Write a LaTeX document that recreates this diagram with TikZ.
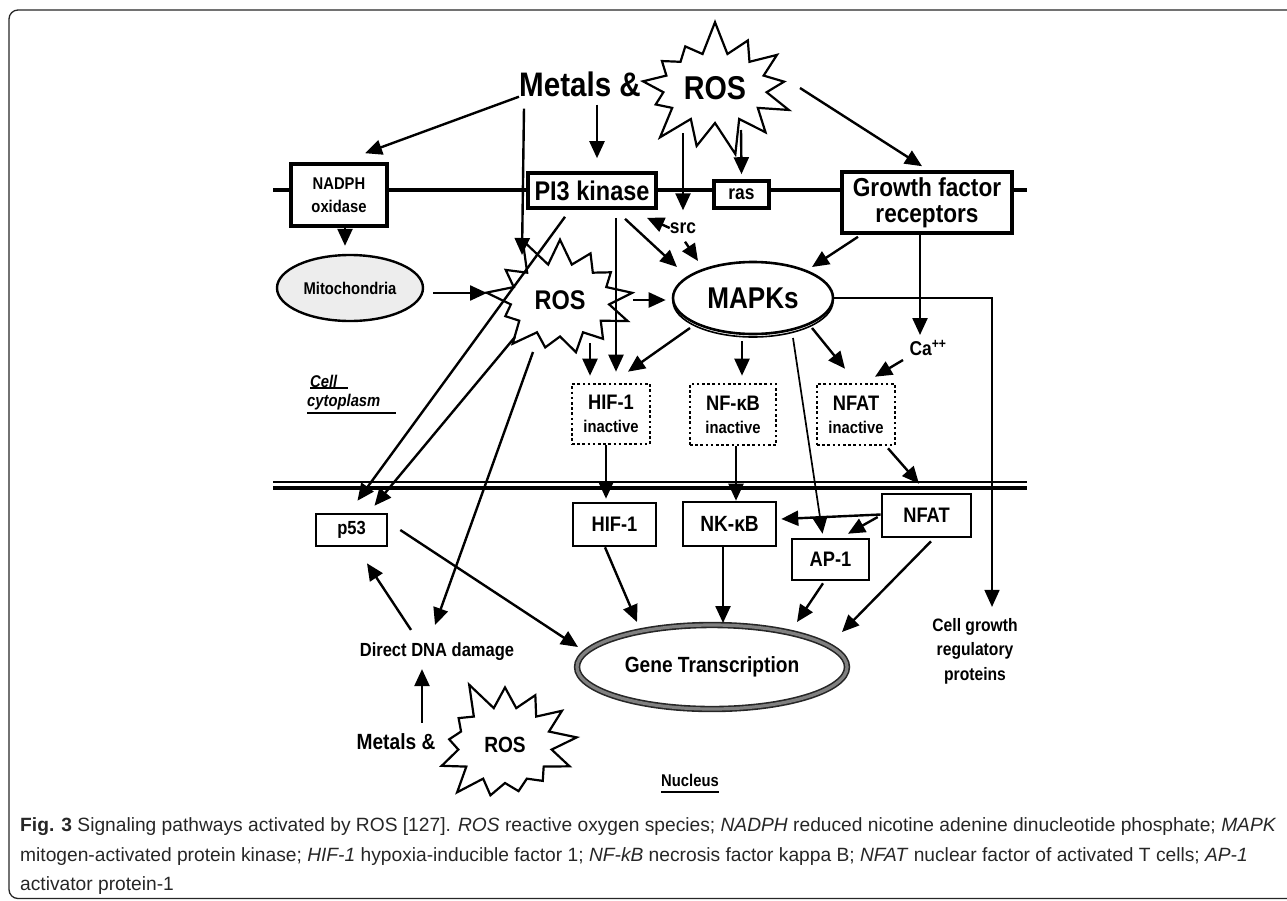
\documentclass[tikz,border=0pt]{standalone}
\usepackage{fontspec}
\setmainfont{Liberation Sans}
\newfontfamily\narrowfont[FakeStretch=0.87]{Liberation Sans}
\usetikzlibrary{arrows.meta,positioning,shapes.geometric,shapes.symbols}

\newcommand{\fsz}[2]{\fontsize{#1}{#2}\selectfont}

\tikzset{
  lbl/.style={inner sep=0pt, align=center, font=\narrowfont\bfseries\fsz{20}{24}},
  membox/.style={draw, line width=3.6pt, fill=white, inner sep=0pt, align=center,
    font=\narrowfont\bfseries\fsz{20}{24}},
  nucbox/.style={draw, line width=2.6pt, fill=white, inner sep=0pt, align=center,
    font=\narrowfont\bfseries\fsz{21}{24}},
  inactbox/.style={draw, line width=2.6pt, dash pattern=on 2.6pt off 2.6pt,
    inner sep=0pt, align=center, font=\narrowfont\bfseries\fsz{21}{23}},
  burst/.style={starburst, draw, line width=2.2pt, fill=white, inner sep=0pt,
    starburst points=13, font=\narrowfont\bfseries},
  sig/.style={-{Triangle[length=17pt,width=15pt]}, line width=2.4pt},
  thinsig/.style={-{Triangle[length=17pt,width=15pt]}, line width=1.7pt},
}

\begin{document}
\begin{tikzpicture}[x=1pt,y=-1pt]
\useasboundingbox (0,0) rectangle (1287,900);
  % frame
  \draw[line width=1.3pt, black!85, rounded corners=9pt] (1287,10) -- (9,10) -- (9,898.5) -- (1287,898.5);
  % membranes
  \draw[line width=4pt] (273,190) -- (1027,190);
  \draw[line width=1.2pt] (273,482) -- (1027,482);
  \draw[line width=4pt] (273,488) -- (1027,488);
%%
  % Node: rosTop
  \node[burst, minimum width=172pt, minimum height=138pt, starburst point height=34pt,
    random starburst=7, font=\narrowfont\bfseries\fsz{33}{33}] (rosTop) at (715,88) {ROS};
  % Node: metTop
  \node[lbl, font=\narrowfont\bfseries\fsz{34}{36}] (metTop) at (580,84) {Metals \&};
  % Node: nadph
  \node[membox, minimum width=96pt, minimum height=62pt, font=\narrowfont\bfseries\fsz{17}{23}] (nadph) at (339,195) {NADPH\\oxidase};
  % Node: pi3
  \node[membox, minimum width=128pt, minimum height=35pt, font=\narrowfont\bfseries\fsz{27}{27}] (pi3) at (592,190.5) {PI3 kinase};
  % Node: ras
  \node[membox, minimum width=55pt, minimum height=27pt] (ras) at (741.5,194.5) {ras};
  % Node: gfr
  \node[membox, minimum width=170pt, minimum height=61pt, font=\narrowfont\bfseries\fsz{26}{26}] (gfr) at (927,202.5) {Growth factor\\receptors};
  % Node: src
  \node[lbl] (src) at (683,228) {src};
  % Node: mito
  \node[ellipse, draw, line width=2.4pt, fill=black!7, minimum width=146pt, minimum height=66pt,
    inner sep=0pt, font=\narrowfont\bfseries\fsz{17}{17}] (mito) at (350,288) {Mitochondria};
  % Node: rosMid
  \node[burst, minimum width=163pt, minimum height=137pt, starburst point height=32pt,
    random starburst=11, font=\narrowfont\bfseries\fsz{27}{27}] (rosMid) at (560,300) {ROS};
  % Node: mapk
  \draw[line width=1.6pt] (753,301) ellipse (80pt and 36pt);
  \node[ellipse, draw, line width=2.6pt, fill=white, minimum width=160pt, minimum height=72pt,
    inner sep=0pt, font=\narrowfont\bfseries\fsz{30}{30}] (mapk) at (753,298) {MAPKs};
  % Node: ca
  \node[lbl] (ca) at (928,348) {Ca\textsuperscript{++}};
  % Node: hifI
  \node[inactbox, minimum width=78pt, minimum height=60pt] (hifI) at (611,414) {HIF-1\\{\fsz{17}{23}inactive}};
  % Node: nfkbI
  \node[inactbox, minimum width=86pt, minimum height=61pt] (nfkbI) at (733,414.5) {NF-κB\\{\fsz{17}{23}inactive}};
  % Node: nfatI
  \node[inactbox, minimum width=78pt, minimum height=61pt] (nfatI) at (856,414.5) {NFAT\\{\fsz{17}{23}inactive}};
  % Node: hif
  \node[nucbox, minimum width=83pt, minimum height=43pt] (hif) at (614.5,524.5) {HIF-1};
  % Node: nkkb
  \node[nucbox, minimum width=93pt, minimum height=44pt, font=\narrowfont\bfseries\fsz{22}{24}] (nkkb) at (729.5,524) {NK-κB};
  % Node: nfat
  \node[nucbox, minimum width=89pt, minimum height=43pt] (nfat) at (926.5,515.5) {NFAT};
  % Node: ap1
  \node[nucbox, minimum width=77pt, minimum height=41pt] (ap1) at (830.5,559.5) {AP-1};
  % Node: p53
  \node[nucbox, minimum width=71pt, minimum height=32pt, font=\narrowfont\bfseries\fsz{19}{19}] (p53) at (351.5,530) {p53};
  % Node: gt
  \node[ellipse, draw=black!85, double=black!50, double distance=3.2pt, line width=1.6pt,
    minimum width=270pt, minimum height=84pt, inner sep=0pt,
    font=\narrowfont\bfseries\fsz{22}{22}] (gt) at (712,667) {Gene Transcription};
  % Node: dna
  \node[lbl, font=\narrowfont\bfseries\fsz{19}{19}] (dna) at (437,652) {Direct DNA damage};
  % Node: cgrow
  \node[lbl, font=\narrowfont\bfseries\fsz{18}{24.5}] (cgrow) at (975,651) {Cell growth\\regulatory\\proteins};
  % Node: rosBot
  \node[burst, minimum width=158pt, minimum height=140pt, starburst point height=32pt,
    random starburst=5, font=\narrowfont\bfseries\fsz{22}{22}] (rosBot) at (505,745) {ROS};
  % Node: metBot
  \node[lbl, font=\narrowfont\bfseries\fsz{22}{22}] (metBot) at (396,742) {Metals \&};
  % Node: cellLbl, cytoLbl, nucLbl
  \node[lbl, anchor=base west, font=\narrowfont\bfseries\itshape\fsz{17}{17}] (cellLbl) at (310,387) {Cell};
  \node[lbl, anchor=base west, font=\narrowfont\bfseries\itshape\fsz{17}{17}] (cytoLbl) at (307,406) {cytoplasm};
  \node[lbl, anchor=base, font=\narrowfont\bfseries\fsz{17}{17}] (nucLbl) at (690,786) {Nucleus};
  \draw[line width=2pt] ([yshift=-1pt]cellLbl.base west) -- ++(38,0);
  \draw[line width=2pt] ([yshift=-7pt]cytoLbl.base west) -- ++(89,0);
  \draw[line width=2pt] ([yshift=-6pt]nucLbl.base west) -- ([yshift=-6pt]nucLbl.base east);
%%
  % Edge: metTop -> nadph
  \draw[sig] (metTop.south west) -- ([xshift=26pt,yshift=9pt]nadph.north);
  % Edge: metTop -> rosMid
  \draw[sig] ([xshift=5pt,yshift=-12pt]metTop.south west) -- ([xshift=-38pt,yshift=45pt]rosMid.center);
  % Edge: metTop -> pi3
  \draw[sig] ([xshift=17pt,yshift=-8pt]metTop.south) -- ([xshift=5pt,yshift=13pt]pi3.north);
  % Edge: rosTop -> src
  \draw[sig] ([xshift=-32pt,yshift=-45pt]rosTop.center) -- ([yshift=12pt]src.north);
  % Edge: rosTop -> ras
  \draw[sig] ([xshift=26pt,yshift=-42pt]rosTop.center) -- ([yshift=5pt]ras.north);
  % Edge: rosTop -> gfr
  \draw[sig] ([xshift=85pt]rosTop.center) -- ([xshift=-5pt,yshift=4pt]gfr.north);
  % Edge: nadph -> mito
  \draw[sig] ([xshift=6pt]nadph.south) -- ([xshift=-5pt,yshift=8pt]mito.north);
  % Edge: mito -> rosMid
  \draw[sig] ([xshift=9pt,yshift=-5pt]mito.east) -- ([xshift=-73pt,yshift=7pt]rosMid.center);
  % Edge: rosMid -> mapk
  \draw[sig] ([xshift=73pt]rosMid.center) -- ([xshift=-6pt,yshift=-2pt]mapk.west);
  % Edge: mapk -> cgrow
  \draw[thinsig] (mapk.east) -| ([xshift=17pt,yshift=11pt]cgrow.north);
  % Edge: pi3 -> mapk
  \draw[sig] ([xshift=33pt,yshift=-9pt]pi3.south) -- ([xshift=-76pt,yshift=31pt]mapk.center);
  % Edge: src -> pi3
  \draw[sig] (src.west) -- ([xshift=55pt,yshift=-8pt]pi3.south);
  % Edge: src -> mapk
  \draw[sig] ([xshift=2pt,yshift=-8pt]src.south) -- ([xshift=-55pt,yshift=37pt]mapk.center);
  % Edge: pi3 -> hifI
  \draw[sig] ([xshift=24pt,yshift=-8pt]pi3.south) -- ([xshift=5pt,yshift=11pt]hifI.north);
  % Edge: pi3 -> p53
  \draw[sig] ([xshift=-27pt,yshift=-7pt]pi3.south) -- ([xshift=6pt,yshift=12pt]p53.north);
  % Edge: rosMid -> p53
  \draw[sig] ([xshift=-45pt,yshift=-37pt]rosMid.center) -- ([xshift=23pt,yshift=7pt]p53.north);
  % Edge: rosMid -> dna
  \draw[sig] ([xshift=-27pt,yshift=-52pt]rosMid.center) -- ([xshift=-2pt,yshift=18pt]dna.north);
  % Edge: rosMid -> hifI
  \draw[sig] ([xshift=30pt,yshift=-43pt]rosMid.center) -- ([xshift=-21pt,yshift=7pt]hifI.north);
  % Edge: mapk -> hifI
  \draw[sig] ([xshift=-63pt,yshift=-30pt]mapk.center) -- ([xshift=17pt,yshift=11pt]hifI.north);
  % Edge: mapk -> nfkbI
  \draw[sig] ([xshift=-11pt,yshift=-6pt]mapk.south) -- ([xshift=9pt,yshift=7pt]nfkbI.north);
  % Edge: mapk -> ap1
  \draw[thinsig] ([xshift=40pt,yshift=-40pt]mapk.center) -- ([xshift=-8pt,yshift=4pt]ap1.north);
  % Edge: mapk -> nfatI
  \draw[sig] ([xshift=59pt,yshift=-30pt]mapk.center) -- ([xshift=-11pt,yshift=14pt]nfatI.north);
  % Edge: gfr -> mapk
  \draw[sig] ([xshift=-69pt,yshift=-2pt]gfr.south) -- ([xshift=59pt,yshift=31pt]mapk.center);
  % Edge: gfr -> ca
  \draw[sig] ([xshift=-7pt]gfr.south) -- ([xshift=-8pt,yshift=13pt]ca.center);
  % Edge: ca -> nfatI
  \draw[sig] ([xshift=-25pt,yshift=-12pt]ca.center) -- ([xshift=19pt,yshift=6pt]nfatI.north);
  % Edge: hifI -> hif
  \draw[sig] ([xshift=-5pt]hifI.south) -- ([xshift=-8.5pt,yshift=3pt]hif.north);
  % Edge: nfkbI -> nkkb
  \draw[sig] ([xshift=3pt]nfkbI.south) -- ([xshift=6.5pt]nkkb.north);
  % Edge: nfatI -> nfat
  \draw[sig] ([xshift=32pt,yshift=-2pt]nfatI.south) -- ([xshift=-7.5pt,yshift=9pt]nfat.north);
  % Edge: nfat -> nkkb
  \draw[sig] ([yshift=1pt]nfat.west) -- ([xshift=4pt,yshift=5pt]nkkb.east);
  % Edge: nfat -> ap1
  \draw[sig] ([xshift=-3pt,yshift=-1.5pt]nfat.west) -- ([xshift=17.5pt,yshift=4pt]ap1.north);
  % Edge: hif -> gt
  \draw[sig] ([xshift=-9.5pt]hif.south) -- ([xshift=-75pt,yshift=45pt]gt.center);
  % Edge: nkkb -> gt
  \draw[sig] ([xshift=-6.5pt]nkkb.south) -- ([xshift=11pt,yshift=44pt]gt.center);
  % Edge: ap1 -> gt
  \draw[sig] ([xshift=-7.5pt,yshift=-2pt]ap1.south) -- ([xshift=85pt,yshift=45pt]gt.center);
  % Edge: nfat -> gt
  \draw[sig] ([xshift=4.5pt,yshift=-3pt]nfat.south) -- ([xshift=130pt,yshift=35pt]gt.center);
  % Edge: p53 -> gt
  \draw[sig] ([xshift=12pt]p53.east) -- ([xshift=-134pt,yshift=20pt]gt.center);
  % Edge: dna -> p53
  \draw[sig] ([xshift=-26pt,yshift=13pt]dna.north) -- ([xshift=15.5pt,yshift=-16pt]p53.south);
  % Edge: metBot -> dna
  \draw[sig] ([xshift=26pt,yshift=11pt]metBot.north) -- ([xshift=-15pt,yshift=-8pt]dna.south);
%%
  % caption
  \node[anchor=base west, inner sep=0pt, font=\fsz{19.2}{19.2}, text=black!85] (cap1) at (20,831)
    {\textbf{Fig. 3} Signaling pathways activated by ROS [127]. \textit{ROS} reactive oxygen species; \textit{NADPH} reduced nicotine adenine dinucleotide phosphate; \textit{MAPK}};
  \node[anchor=base west, inner sep=0pt, font=\fsz{19.2}{19.2}, text=black!85] (cap2) at (20,861)
    {mitogen-activated protein kinase; \textit{HIF-1} hypoxia-inducible factor 1; \textit{NF-kB} necrosis factor kappa B; \textit{NFAT} nuclear factor of activated T cells; \textit{AP-1}};
  \node[anchor=base west, inner sep=0pt, font=\fsz{19.2}{19.2}, text=black!85] (cap3) at (20,890)
    {activator protein-1};
%
\end{tikzpicture}
\end{document}
